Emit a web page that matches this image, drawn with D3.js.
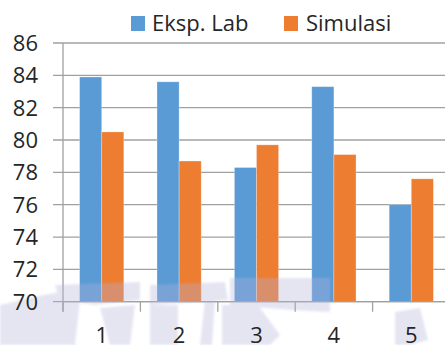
<!DOCTYPE html>
<html>
<head>
<meta charset="utf-8">
<script src="https://cdn.jsdelivr.net/npm/d3@7"></script>
<style>
  html, body { margin: 0; padding: 0; background: #fff; }
  svg { display: block; }
  text { font-family: "Open Sans", "Noto Sans", sans-serif; fill: #262626; }
</style>
</head>
<body>
<svg id="chart" width="445" height="345"></svg>
<script>
// Data
const categories = ["1", "2", "3", "4", "5"];
const seriesNames = ["Eksp. Lab", "Simulasi"];
const eksperimen = [83.9, 83.6, 78.3, 83.3, 76.0];
const simulasi = [80.5, 78.7, 79.7, 79.1, 77.6];
const yTicks = [70, 72, 74, 76, 78, 80, 82, 84, 86];
const colors = ["#5B9BD5", "#ED7D31"];

const values = [eksperimen, simulasi];

const W = 445, H = 345;
const plot = { left: 63, right: 450, top: 43, bottom: 301.7 };
const svg = d3.select("#chart");

const y = d3.scaleLinear().domain([70, 86]).range([plot.bottom, plot.top]);

// Excel-like clustering: gap width 150% of a bar
const gapRatio = 1.5 / 3.5;
const x0 = d3.scaleBand().domain(categories)
  .range([plot.left, plot.right])
  .paddingInner(gapRatio).paddingOuter(gapRatio / 2);
const x1 = d3.scaleBand().domain(seriesNames).range([0, x0.bandwidth()]);

const gridColor = "#a0a0a0";

// Horizontal gridlines with outward tick stubs
svg.append("g").selectAll("line").data(yTicks).join("line")
  .attr("x1", plot.left - 10).attr("x2", W + 10)
  .attr("y1", d => y(d)).attr("y2", d => y(d))
  .attr("stroke", gridColor).attr("stroke-width", 1.3);

// Y axis line
svg.append("line")
  .attr("x1", plot.left).attr("x2", plot.left)
  .attr("y1", plot.top).attr("y2", plot.bottom + 10)
  .attr("stroke", gridColor).attr("stroke-width", 1.3);

// Bars
const groups = svg.append("g").selectAll("g").data(categories).join("g")
  .attr("transform", c => `translate(${x0(c)},0)`);
groups.selectAll("rect")
  .data((c, i) => seriesNames.map((s, k) => ({ s, k, v: values[k][i] })))
  .join("rect")
  .attr("x", d => x1(d.s))
  .attr("width", x1.bandwidth())
  .attr("y", d => y(d.v))
  .attr("height", d => y(70) - y(d.v))
  .attr("fill", d => colors[d.k])
  .attr("stroke", "rgba(255,255,255,0.35)")
  .attr("stroke-width", 0.8);

// X axis line and category boundary ticks
const step = x0.step();
const boundaries = categories.map(c => x0(c) - x0.paddingOuter() * step);
svg.append("line")
  .attr("x1", plot.left).attr("x2", W + 10)
  .attr("y1", plot.bottom).attr("y2", plot.bottom)
  .attr("stroke", gridColor).attr("stroke-width", 1.3);
svg.append("g").selectAll("line").data(boundaries).join("line")
  .attr("x1", d => d).attr("x2", d => d)
  .attr("y1", plot.bottom).attr("y2", plot.bottom + 10)
  .attr("stroke", gridColor).attr("stroke-width", 1.3);

// Faint watermark overlay near the bottom
svg.append("defs").append("filter").attr("id", "soft")
  .append("feGaussianBlur").attr("stdDeviation", 1.2);
const wm = svg.append("g").attr("fill", "#b4b4dc").attr("opacity", 0.34)
  .attr("filter", "url(#soft)");
const wmShapes = [
  "M0,305 L22,300 L60,345 L0,345 Z",
  "M18,300 L60,292 L80,300 L75,345 L55,345 Z",
  "M55,285 L140,282 L140,300 L95,305 L60,300 Z",
  "M100,308 L135,305 L130,345 L110,345 Z",
  "M150,285 L225,282 L228,300 L150,305 Z",
  "M150,305 L178,305 L178,345 L150,345 Z",
  "M205,300 L215,300 L212,345 L200,345 Z",
  "M230,278 L330,278 L330,312 L290,310 L230,305 Z",
  "M222,305 L258,305 L280,335 L270,345 L222,345 Z",
  "M395,312 L420,308 L428,340 L410,345 L395,345 Z"
];
wm.selectAll("path").data(wmShapes).join("path").attr("d", d => d);

// Y tick labels
svg.append("g").selectAll("text").data(yTicks).join("text")
  .attr("x", 38).attr("y", d => y(d) + 8)
  .attr("text-anchor", "end")
  .attr("font-size", 22)
  .text(d => d);

// X tick labels
svg.append("g").selectAll("text").data(categories).join("text")
  .attr("x", c => x0(c) + x0.bandwidth() / 2)
  .attr("y", 343)
  .attr("text-anchor", "middle")
  .attr("font-size", 22)
  .text(c => c);

// Legend
const legendX = [131, 284];
const legend = svg.append("g").selectAll("g").data(seriesNames).join("g")
  .attr("transform", (d, i) => `translate(${legendX[i]},16)`);
legend.append("rect").attr("width", 14).attr("height", 15)
  .attr("fill", (d, i) => colors[i]);
legend.append("text").attr("x", (d, i) => i === 0 ? 21 : 22).attr("y", 15)
  .attr("font-size", 22)
  .text(d => d);
</script>
</body>
</html>
